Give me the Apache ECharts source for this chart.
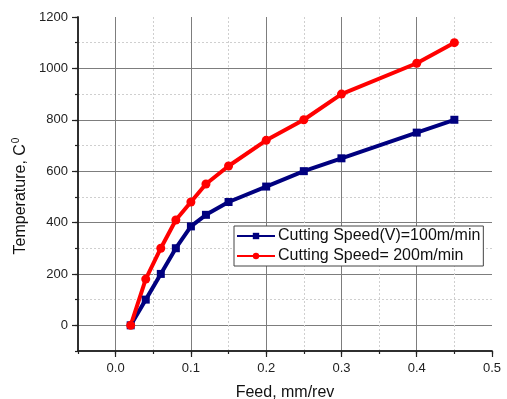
<!DOCTYPE html>
<html>
<head>
<meta charset="utf-8">
<script src="https://cdn.jsdelivr.net/npm/echarts@6/dist/echarts.min.js"></script>
<style>
  html, body { margin: 0; padding: 0; background: #fff; }
  #chart { width: 507px; height: 399px; }
</style>
</head>
<body>
<div id="chart"></div>
<script>
// Feed rate (mm/rev) at which the temperature was measured
const feed = [0.02, 0.04, 0.06, 0.08, 0.10, 0.12, 0.15, 0.20, 0.25, 0.30, 0.40, 0.45];
// Cutting temperature (°C) at V = 100 m/min
const temp100 = [0, 100, 200, 300, 385, 430, 480, 540, 600, 650, 750, 800];
// Cutting temperature (°C) at V = 200 m/min
const temp200 = [0, 180, 300, 410, 480, 550, 620, 720, 800, 900, 1020, 1100];

const seriesNames = ['Cutting Speed(V)=100m/min', 'Cutting Speed= 200m/min'];

// Labelled (major) ticks
const xTicks = [0.0, 0.1, 0.2, 0.3, 0.4, 0.5];
const yTicks = [0, 200, 400, 600, 800, 1000, 1200];

const FONT = '"Liberation Sans", Arial, sans-serif';
const AXIS_COLOR = '#222';
const MAJOR_GRID = '#7d7d7d';
const MINOR_GRID = '#cfcfcf';

const toPairs = (xs, ys) => xs.map((x, i) => [x, ys[i]]);

const chart = echarts.init(document.getElementById('chart'), null, { renderer: 'canvas' });

const xCommon = { type: 'value', min: -0.05, max: 0.5, position: 'bottom',
  axisLine: { show: true, onZero: false, lineStyle: { color: AXIS_COLOR, width: 1.5 } } };
const yCommon = { type: 'value', min: -100, max: 1200, position: 'left',
  axisLine: { show: true, onZero: false, lineStyle: { color: AXIS_COLOR, width: 1.5 } } };

chart.setOption({
  animation: false,
  backgroundColor: '#fff',
  grid: { left: 78, right: 15, top: 17, bottom: 48, containLabel: false, outerBoundsMode: 'none' },
  xAxis: [
    // minor ticks every 0.05 with dotted grid
    Object.assign({}, xCommon, {
      interval: 0.05,
      axisTick: { show: true, length: 3, lineStyle: { color: AXIS_COLOR, width: 1.2 } },
      axisLabel: { show: false },
      splitLine: { show: true, showMinLine: false, showMaxLine: false,
        lineStyle: { color: MINOR_GRID, type: [2, 2], width: 1 } }
    }),
    // labelled ticks every 0.1 with solid grid
    Object.assign({}, xCommon, {
      name: 'Feed, mm/rev', nameLocation: 'middle', nameGap: 34,
      nameTextStyle: { fontFamily: FONT, fontSize: 16, color: '#111' },
      axisTick: { show: true, length: 6, customValues: xTicks, lineStyle: { color: AXIS_COLOR, width: 1.2 } },
      axisLabel: { show: true, customValues: xTicks, margin: 11, fontFamily: FONT, fontSize: 13, color: '#222',
        formatter: v => Number(v).toFixed(1) },
      splitLine: { show: true, showMinLine: true, showMaxLine: false,
        lineStyle: { color: MAJOR_GRID, width: 1 } }
    })
  ],
  yAxis: [
    Object.assign({}, yCommon, {
      interval: 100,
      axisTick: { show: true, length: 3, lineStyle: { color: AXIS_COLOR, width: 1.2 } },
      axisLabel: { show: false },
      splitLine: { show: true, showMinLine: false, showMaxLine: false,
        lineStyle: { color: MINOR_GRID, type: [2, 2], width: 1 } }
    }),
    Object.assign({}, yCommon, {
      name: 'Temperature, C{sup|0}', nameLocation: 'middle', nameGap: 37,
      nameTextStyle: { fontFamily: FONT, fontSize: 16, color: '#111', padding: [0, 24, 0, 0],
        rich: { sup: { fontFamily: FONT, fontSize: 10, color: '#111', verticalAlign: 'top', padding: [0, 0, 8, 1] } } },
      axisTick: { show: true, length: 6, customValues: yTicks, lineStyle: { color: AXIS_COLOR, width: 1.2 } },
      axisLabel: { show: true, customValues: yTicks, margin: 10, fontFamily: FONT, fontSize: 13, color: '#222',
        formatter: v => String(v) },
      splitLine: { show: true, showMinLine: true, showMaxLine: false,
        lineStyle: { color: MAJOR_GRID, width: 1 } }
    })
  ],
  legend: {
    orient: 'vertical', left: 234, top: 226,
    backgroundColor: '#fff', borderColor: '#444', borderWidth: 1,
    padding: [1, 3, 1, 2], itemGap: 2, itemWidth: 38, itemHeight: 8,
    textStyle: { fontFamily: FONT, fontSize: 16, color: '#111', lineHeight: 18, padding: [0, 0, 0, -2] },
    data: seriesNames
  },
  series: [
    {
      name: seriesNames[0], type: 'line', data: toPairs(feed, temp100),
      symbol: 'rect', symbolSize: 8,
      lineStyle: { color: '#00007f', width: 4 },
      itemStyle: { color: '#00007f' }
    },
    {
      name: seriesNames[1], type: 'line', data: toPairs(feed, temp200),
      symbol: 'circle', symbolSize: 9,
      lineStyle: { color: '#ff0000', width: 4 },
      itemStyle: { color: '#ff0000' }
    }
  ]
});
</script>
</body>
</html>
